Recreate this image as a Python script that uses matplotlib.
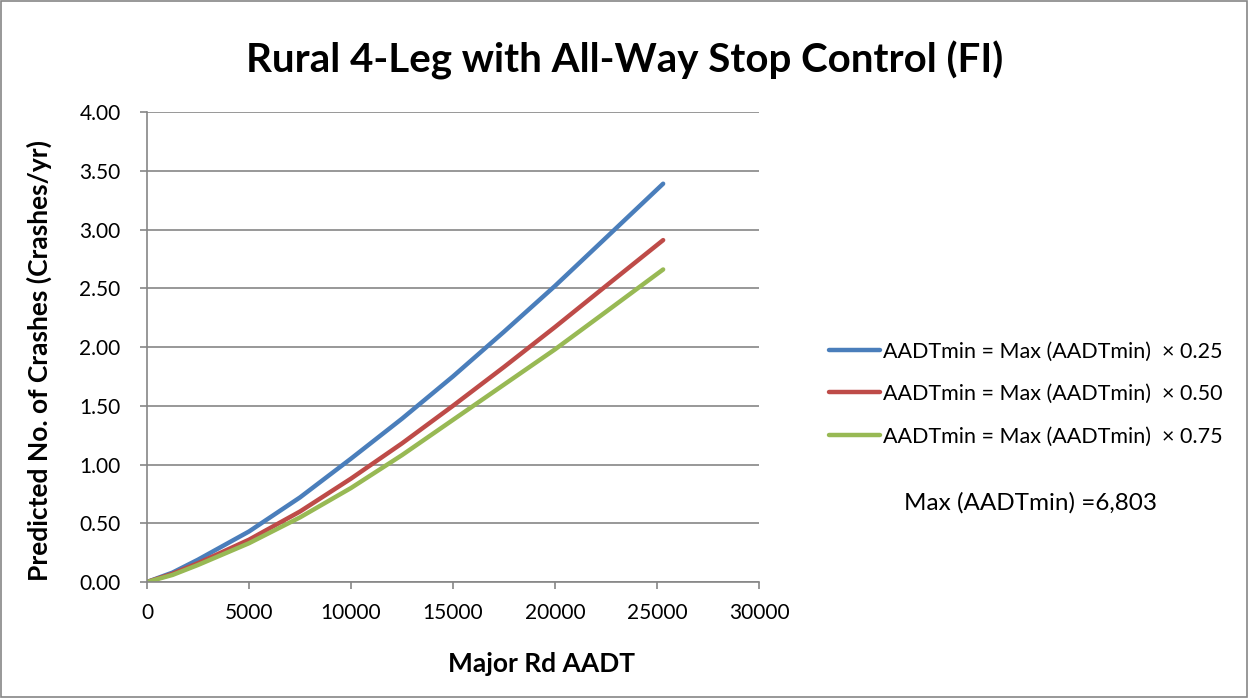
import matplotlib.pyplot as plt
from matplotlib.patches import Rectangle

# values
aadt = [0, 1250, 2500, 5000, 7500, 10000, 12500, 15000, 17500, 20000, 22500, 25300]
crash_025 = [0, 0.08, 0.19, 0.43, 0.72, 1.05, 1.39, 1.75, 2.13, 2.52, 2.93, 3.39]
crash_050 = [0, 0.07, 0.16, 0.36, 0.60, 0.88, 1.18, 1.50, 1.83, 2.17, 2.52, 2.91]
crash_075 = [0, 0.06, 0.145, 0.33, 0.55, 0.80, 1.08, 1.38, 1.68, 1.98, 2.30, 2.66]
labels = ['AADTmin = Max (AADTmin)  \u00d7 0.25',
          'AADTmin = Max (AADTmin)  \u00d7 0.50',
          'AADTmin = Max (AADTmin)  \u00d7 0.75']
colors = ['#4A7EBB', '#BE4B48', '#98B954']

plt.rcParams['font.family'] = ['Lato', 'DejaVu Sans']

fig = plt.figure(figsize=(12.49, 6.98), dpi=100)
ax = fig.add_axes([0.1177, 0.1662, 0.49, 0.6733])

for y, lab, c in zip([crash_025, crash_050, crash_075], labels, colors):
    ax.plot(aadt, y, color=c, lw=3.2, label=lab, solid_capstyle='round')

ax.set_xlim(0, 30000)
ax.set_ylim(0, 4)
ax.set_xticks(range(0, 30001, 5000))
ax.set_yticks([i * 0.5 for i in range(9)])
ax.set_yticklabels(['%.2f' % (i * 0.5) for i in range(9)])
ax.yaxis.grid(True, color='#868686', lw=1.2)
ax.set_axisbelow(True)
for s in ['top', 'right']:
    ax.spines[s].set_visible(False)
for s in ['left', 'bottom']:
    ax.spines[s].set_color('#868686')
    ax.spines[s].set_linewidth(1.2)
ax.tick_params(axis='both', colors='#868686', labelcolor='black', labelsize=15,
               length=5, width=1.2, direction='out')
ax.tick_params(axis='x', pad=10)
ax.tick_params(axis='y', pad=14)

ax.set_xlabel('Major Rd AADT', fontsize=19, fontweight='bold')
ax.xaxis.set_label_coords(0.645, -0.15)
ax.set_ylabel('Predicted No. of Crashes (Crashes/yr)', fontsize=19, fontweight='bold')
ax.yaxis.set_label_coords(-0.155, 0.472)
fig.suptitle('Rural 4-Leg with All-Way Stop Control (FI)', fontsize=29,
             fontweight='bold', y=0.942)

fig.legend(loc='center left', bbox_to_anchor=(0.648, 0.4355), frameon=False,
           fontsize=15.5, handlelength=2.4, handletextpad=0.1, labelspacing=1.05)
fig.text(0.825, 0.279, 'Max (AADTmin) =6,803', fontsize=17.5, ha='center', va='center')

fig.add_artist(Rectangle((0.001, 0.002), 0.997, 0.996, transform=fig.transFigure,
                         fill=False, edgecolor='#868686', lw=1.2))

fig.savefig('out.png', dpi=100)
